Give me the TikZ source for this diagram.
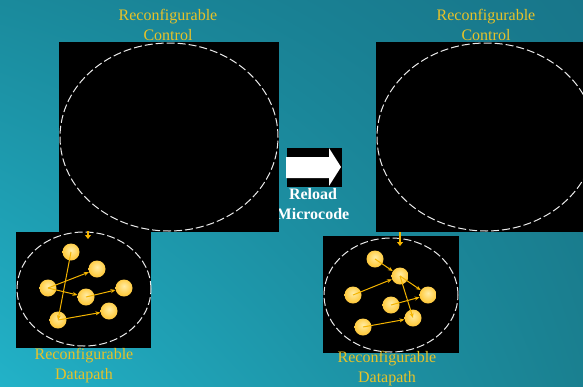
\documentclass[tikz,border=0pt]{standalone}
\usepackage{fontspec}
\setmainfont{Liberation Serif}
\usetikzlibrary{positioning, calc, arrows.meta, shapes.geometric, shadings}

\definecolor{gold}{RGB}{232,194,40}
\definecolor{balllight}{RGB}{255,236,165}
\definecolor{ballmid}{RGB}{255,206,72}
\definecolor{balledge}{RGB}{240,164,20}
\definecolor{wirecol}{RGB}{244,180,0}
\definecolor{seaTL}{RGB}{26,138,156}
\definecolor{seaBL}{RGB}{34,178,200}
\definecolor{seaTR}{RGB}{24,118,138}
\definecolor{seaBR}{RGB}{26,128,144}

% soft yellow ball for the datapath units
\pgfdeclareradialshading{unitball}{\pgfpoint{0bp}{6bp}}{%
    color(0bp)=(balllight); color(22bp)=(ballmid);
    color(48bp)=(balledge); color(60bp)=(balledge)}

\begin{document}
\begin{tikzpicture}[
    x=1pt, y=-1pt,
    panel/.style={rectangle, fill=black, draw=none, inner sep=0pt},
    ring/.style={ellipse, draw=white!92!black, dash pattern=on 8pt off 3pt, line width=1pt, inner sep=0pt},
    unit/.style={circle, minimum size=17pt, inner sep=0pt, shading=unitball},
    wire/.style={-{Stealth[length=5pt, width=4pt]}, draw=wirecol, line width=1pt},
    feed/.style={-{Triangle[length=4pt, width=6pt]}, draw=wirecol, line width=2.2pt},
    caption/.style={text=gold, font=\fontsize{16}{20}\selectfont, align=center},
    reload/.style={text=white, font=\bfseries\fontsize{16}{19.5}\selectfont, align=center}
]

    \useasboundingbox (0,0) rectangle (583,386);
    \clip (0,0) rectangle (583,386);

    % Background
    \shade[upper left=seaTL, lower left=seaBL, upper right=seaTR, lower right=seaBR]
        (0,0) rectangle (583,386);

    % Reload step (text sits under the left panel)
    \node[reload] (reloadtxt) at (313,204) {Reload\\Microcode};

    % Control panels
    \node[panel, minimum width=220pt, minimum height=190pt] (ctrlL) at (169,137) {};
    \node[ring, minimum width=218pt, minimum height=188pt] (ringL) at (169,137) {};
    \node[panel, minimum width=220pt, minimum height=190pt] (ctrlR) at (486,137) {};
    \node[ring, minimum width=218pt, minimum height=188pt] (ringR) at (486,137) {};

    \node[caption] (capCL) at (168,25) {Reconfigurable\\Control};
    \node[caption] (capCR) at (486,25) {Reconfigurable\\Control};

    % Arrow between the two states
    \fill[black] (287,148) rectangle (342,187);
    \fill[white] (286,157) -- (329,157) -- (329,148) -- (341,167)
        -- (329,186) -- (329,178) -- (286,178) -- cycle;

    % Datapath panels
    \node[panel, minimum width=135pt, minimum height=116pt] (dpL) at (83.5,289.5) {};
    \node[ring, minimum width=134pt, minimum height=114pt] (dringL) at (84,289) {};
    \node[panel, minimum width=136pt, minimum height=117pt] (dpR) at (391,294.5) {};
    \node[ring, minimum width=134pt, minimum height=114pt] (dringR) at (391,295) {};

    \node[caption] (capDL) at (84,366) {Reconfigurable\\Datapath};
    \node[caption] (capDR) at (387,369) {Reconfigurable\\Datapath};

    % Control feeds datapath
    \coordinate (feedL) at (88,231);
    \coordinate (feedR) at (400,232);
    \draw[feed] (feedL) -- ++(0,8);
    \draw[feed] (feedR) -- ++(0,14);

    % Left datapath units
    \node[unit] (lA) at (71,252) {};
    \node[unit] (lB) at (97,269) {};
    \node[unit] (lC) at (48,288) {};
    \node[unit] (lD) at (86,297) {};
    \node[unit] (lE) at (124,288) {};
    \node[unit] (lF) at (109,311) {};
    \node[unit] (lG) at (58,320) {};

    \draw[wire] (lA.center) -- (lG.center);
    \draw[wire] (lC.center) -- (lB);
    \draw[wire] (lC.center) -- (lD);
    \draw[wire] (lD.center) -- (lE);
    \draw[wire] (lG.center) -- (lF);

    % Right datapath units
    \node[unit] (rA) at (375,259) {};
    \node[unit] (rB) at (400,276) {};
    \node[unit] (rC) at (353,295) {};
    \node[unit] (rD) at (391,305) {};
    \node[unit] (rE) at (428,295) {};
    \node[unit] (rF) at (413,318) {};
    \node[unit] (rG) at (363,327) {};

    \draw[wire] (rA.center) -- (rB);
    \draw[wire] (rC.center) -- (rB);
    \draw[wire] (rB.center) -- (rE);
    \draw[wire] (rB.center) -- (rF.center);
    \draw[wire] (rD.center) -- (rE);
    \draw[wire] (rG.center) -- (rF);

\end{tikzpicture}
\end{document}
